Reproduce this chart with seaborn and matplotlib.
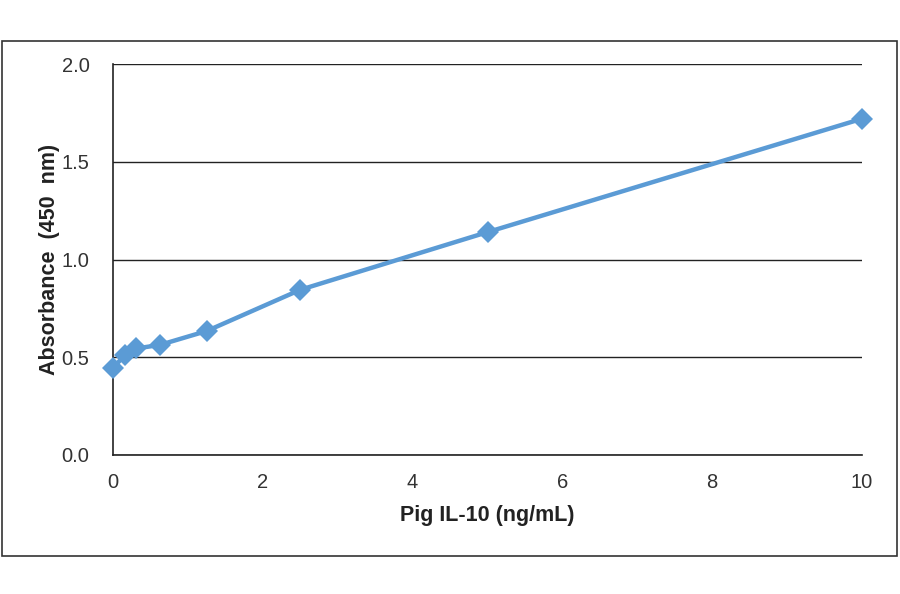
import matplotlib
matplotlib.use('Agg')
import matplotlib.pyplot as plt
import seaborn as sns
import pandas as pd
from matplotlib.patches import Rectangle

# Standard curve data
concentration = [0, 0.156, 0.3125, 0.625, 1.25, 2.5, 5, 10]
absorbance = [0.445, 0.51, 0.545, 0.563, 0.634, 0.845, 1.14, 1.72]
x_ticks = [0, 2, 4, 6, 8, 10]
y_ticks = [0.0, 0.5, 1.0, 1.5, 2.0]

df = pd.DataFrame({'conc': concentration, 'abs': absorbance})

sns.set_style('white')
plt.rcParams['font.family'] = ['Liberation Sans', 'DejaVu Sans']

fig = plt.figure(figsize=(9, 5.94), dpi=100)
ax = fig.add_axes([113 / 900, 1 - 455 / 594, (862 - 113) / 900, (455 - 64) / 594])

# outer chart border
fig.patches.append(Rectangle((2 / 900, 1 - 556 / 594), 895 / 900, 515 / 594,
                             transform=fig.transFigure, fill=False,
                             edgecolor='#333333', linewidth=1.2))

sns.lineplot(data=df, x='conc', y='abs', ax=ax, color='#5b9bd5',
             linewidth=3.2, marker='D', markersize=11, markeredgewidth=0,
             clip_on=False, zorder=5)

ax.set_xlim(0, 10)
ax.set_ylim(0, 2.0)
ax.set_xticks(x_ticks)
ax.set_xticklabels([str(t) for t in x_ticks])
ax.set_yticks(y_ticks)
ax.set_yticklabels(['%.1f' % t for t in y_ticks])

ax.grid(axis='y', color='#222222', linewidth=1)
ax.set_axisbelow(True)
for side in ['top', 'right']:
    ax.spines[side].set_visible(False)
for side in ['left', 'bottom']:
    ax.spines[side].set_color('#222222')
    ax.spines[side].set_linewidth(1.2)

ax.tick_params(axis='both', direction='out', length=6, width=1.2,
               color='#222222', labelsize=14.5, labelcolor='#333333', pad=7)
ax.tick_params(axis='y', pad=11)

ax.set_xlabel('Pig IL-10 (ng/mL)', fontsize=15.5, fontweight='bold',
              color='#222222', labelpad=9)
ax.set_ylabel('Absorbance  (450  nm)', fontsize=15.5, fontweight='bold',
              color='#222222', labelpad=1)

fig.savefig('out.png', dpi=100)
